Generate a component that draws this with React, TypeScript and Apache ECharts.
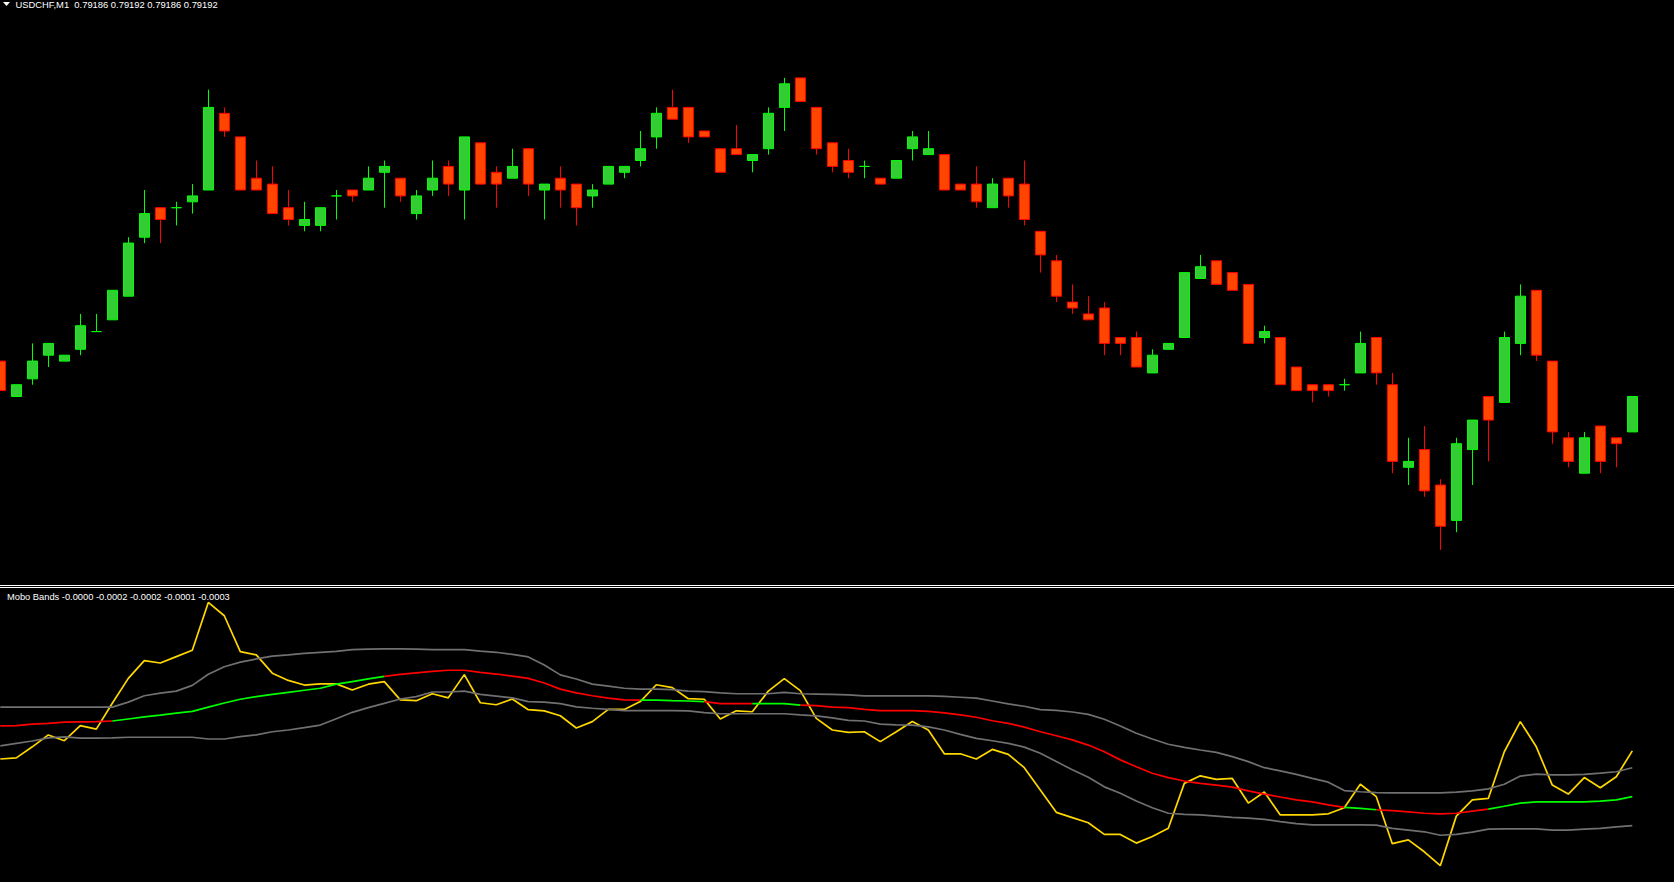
import React, { useEffect, useRef } from "react";
import * as echarts from "echarts";

// ---- data (USDCHF, M1) ----
const bars: string[] = Array.from({ length: 103 }, (_, i) => String(i + 1));

const opens = [0.79198,0.79192,0.79195,0.79199,0.79198,0.79200,0.79203,0.79205,0.79209,0.79219,
 0.79224,0.79224,0.79225,0.79227,0.79240,0.79236,0.79229,0.79228,0.79224,0.79221,
 0.79221,0.79226,0.79227,0.79227,0.79230,0.79229,0.79223,0.79227,0.79231,0.79227,
 0.79235,0.79230,0.79229,0.79234,0.79227,0.79229,0.79228,0.79226,0.79228,0.79230,
 0.79232,0.79236,0.79241,0.79241,0.79237,0.79234,0.79234,0.79232,0.79234,0.79241,
 0.79246,0.79241,0.79235,0.79232,0.79231,0.79229,0.79229,0.79234,0.79233,0.79233,
 0.79228,0.79228,0.79224,0.79229,0.79228,0.79220,0.79215,0.79208,0.79206,0.79207,
 0.79202,0.79202,0.79196,0.79200,0.79202,0.79212,0.79215,0.79213,0.79211,0.79202,
 0.79202,0.79197,0.79194,0.79194,0.79194,0.79196,0.79202,0.79194,0.79180,0.79183,
 0.79177,0.79171,0.79183,0.79192,0.79191,0.79201,0.79210,0.79198,0.79185,0.79179,
 0.79187,0.79185,0.79186];

const highs = [0.79198,0.79194,0.79201,0.79201,0.79199,0.79206,0.79206,0.79210,0.79219,0.79227,
 0.79224,0.79225,0.79228,0.79244,0.79241,0.79236,0.79232,0.79231,0.79227,0.79225,
 0.79224,0.79227,0.79227,0.79231,0.79232,0.79229,0.79227,0.79232,0.79232,0.79236,
 0.79235,0.79231,0.79234,0.79234,0.79228,0.79231,0.79228,0.79228,0.79231,0.79231,
 0.79237,0.79241,0.79244,0.79241,0.79237,0.79234,0.79238,0.79233,0.79241,0.79246,
 0.79246,0.79241,0.79235,0.79234,0.79232,0.79229,0.79232,0.79237,0.79237,0.79233,
 0.79228,0.79231,0.79229,0.79229,0.79232,0.79220,0.79216,0.79211,0.79209,0.79208,
 0.79202,0.79203,0.79200,0.79201,0.79213,0.79216,0.79215,0.79213,0.79211,0.79204,
 0.79202,0.79197,0.79194,0.79194,0.79195,0.79203,0.79202,0.79196,0.79185,0.79187,
 0.79178,0.79185,0.79188,0.79192,0.79203,0.79211,0.79210,0.79198,0.79186,0.79186,
 0.79187,0.79185,0.79192];

const lows = [0.79193,0.79192,0.79194,0.79197,0.79198,0.79199,0.79203,0.79205,0.79209,0.79218,
 0.79218,0.79221,0.79223,0.79227,0.79236,0.79227,0.79227,0.79223,0.79221,0.79220,
 0.79220,0.79222,0.79225,0.79227,0.79224,0.79225,0.79222,0.79226,0.79226,0.79222,
 0.79228,0.79224,0.79229,0.79226,0.79222,0.79224,0.79221,0.79224,0.79228,0.79229,
 0.79231,0.79234,0.79239,0.79235,0.79236,0.79230,0.79233,0.79230,0.79233,0.79237,
 0.79242,0.79233,0.79230,0.79229,0.79229,0.79228,0.79229,0.79232,0.79233,0.79227,
 0.79227,0.79224,0.79224,0.79224,0.79221,0.79213,0.79208,0.79206,0.79205,0.79199,
 0.79199,0.79197,0.79196,0.79200,0.79202,0.79212,0.79211,0.79210,0.79201,0.79201,
 0.79194,0.79193,0.79191,0.79192,0.79193,0.79196,0.79194,0.79179,0.79177,0.79175,
 0.79166,0.79169,0.79177,0.79181,0.79191,0.79199,0.79198,0.79184,0.79180,0.79179,
 0.79179,0.79180,0.79186];

const closes = [0.79193,0.79194,0.79198,0.79201,0.79199,0.79204,0.79203,0.79210,0.79218,0.79223,
 0.79222,0.79224,0.79226,0.79241,0.79237,0.79227,0.79227,0.79223,0.79222,0.79222,
 0.79224,0.79226,0.79226,0.79229,0.79231,0.79226,0.79226,0.79229,0.79228,0.79236,
 0.79228,0.79228,0.79231,0.79228,0.79228,0.79227,0.79224,0.79227,0.79231,0.79231,
 0.79234,0.79240,0.79239,0.79236,0.79236,0.79230,0.79233,0.79233,0.79240,0.79245,
 0.79242,0.79234,0.79231,0.79230,0.79231,0.79228,0.79232,0.79236,0.79234,0.79227,
 0.79227,0.79225,0.79228,0.79226,0.79222,0.79216,0.79209,0.79207,0.79205,0.79201,
 0.79201,0.79197,0.79199,0.79201,0.79213,0.79214,0.79211,0.79210,0.79201,0.79203,
 0.79194,0.79193,0.79193,0.79193,0.79194,0.79201,0.79196,0.79181,0.79181,0.79176,
 0.79170,0.79184,0.79188,0.79188,0.79202,0.79209,0.79199,0.79186,0.79181,0.79185,
 0.79181,0.79184,0.79192];

// Mobo Bands buffers
const moboMain = [-6.5e-5,-6.1e-5,-2.3e-5,1.8e-5,-0.2e-5,5.0e-5,3.8e-5,12.7e-5,21.3e-5,27.4e-5,
 26.6e-5,28.8e-5,31.0e-5,47.5e-5,42.9e-5,30.5e-5,29.4e-5,23.1e-5,20.6e-5,19.0e-5,
 19.4e-5,19.4e-5,17.3e-5,19.3e-5,20.2e-5,13.9e-5,13.6e-5,16.0e-5,14.6e-5,22.6e-5,
 12.9e-5,12.2e-5,14.2e-5,10.5e-5,10.1e-5,8.4e-5,4.2e-5,6.4e-5,10.6e-5,10.6e-5,
 13.3e-5,19.1e-5,18.1e-5,14.3e-5,14.1e-5,7.3e-5,10.1e-5,9.8e-5,16.9e-5,21.2e-5,
 17.1e-5,7.5e-5,3.5e-5,2.7e-5,2.9e-5,-0.5e-5,2.9e-5,6.4e-5,3.5e-5,-4.7e-5,
 -4.7e-5,-6.5e-5,-3.2e-5,-4.9e-5,-9.5e-5,-17.2e-5,-24.9e-5,-26.7e-5,-28.5e-5,-32.5e-5,
 -32.5e-5,-35.5e-5,-33.2e-5,-30.4e-5,-14.9e-5,-12.3e-5,-13.5e-5,-13.2e-5,-21.7e-5,-17.9e-5,
 -25.8e-5,-25.8e-5,-25.8e-5,-25.4e-5,-23.3e-5,-15.2e-5,-19.5e-5,-35.7e-5,-34.4e-5,-38.5e-5,
 -43.3e-5,-26.2e-5,-20.6e-5,-20.1e-5,-4.0e-5,6.4e-5,-2.3e-5,-15.5e-5,-18.6e-5,-12.9e-5,
 -16.4e-5,-12.6e-5,-3.7e-5];

const moboUpper = [11.4e-5,11.4e-5,11.4e-5,11.4e-5,11.4e-5,11.4e-5,11.4e-5,11.4e-5,13.1e-5,15.3e-5,
 16.2e-5,16.9e-5,18.9e-5,22.7e-5,25.3e-5,26.9e-5,28.0e-5,29.0e-5,29.4e-5,29.9e-5,
 30.3e-5,30.6e-5,31.2e-5,31.4e-5,31.5e-5,31.5e-5,31.4e-5,31.2e-5,31.2e-5,31.2e-5,
 30.7e-5,30.3e-5,29.6e-5,28.7e-5,25.9e-5,22.5e-5,21.1e-5,19.3e-5,18.6e-5,17.9e-5,
 17.6e-5,17.6e-5,17.4e-5,16.9e-5,16.7e-5,16.3e-5,16.0e-5,16.0e-5,16.0e-5,16.5e-5,
 16.0e-5,15.9e-5,15.8e-5,15.6e-5,15.3e-5,15.3e-5,15.3e-5,15.3e-5,15.3e-5,15.1e-5,
 14.8e-5,14.5e-5,13.5e-5,12.5e-5,11.7e-5,10.5e-5,10.3e-5,9.7e-5,8.9e-5,7.2e-5,
 4.9e-5,2.4e-5,0.4e-5,-1.4e-5,-2.5e-5,-3.4e-5,-4.2e-5,-5.7e-5,-7.4e-5,-9.5e-5,
 -10.6e-5,-11.8e-5,-13.2e-5,-14.5e-5,-17.4e-5,-17.8e-5,-18.1e-5,-18.2e-5,-18.2e-5,-18.2e-5,
 -18.2e-5,-17.9e-5,-17.5e-5,-16.8e-5,-15.2e-5,-12.4e-5,-11.7e-5,-12.0e-5,-12.0e-5,-11.8e-5,
 -11.4e-5,-10.9e-5,-9.5e-5];

const moboMiddle = [4.9e-5,5.0e-5,5.5e-5,5.8e-5,6.2e-5,6.3e-5,6.4e-5,6.6e-5,7.3e-5,8.0e-5,
 8.6e-5,9.3e-5,9.9e-5,11.4e-5,12.8e-5,14.1e-5,15.0e-5,15.8e-5,16.5e-5,17.2e-5,
 17.9e-5,19.3e-5,20.2e-5,21.1e-5,22.0e-5,22.7e-5,23.2e-5,23.7e-5,24.1e-5,24.1e-5,
 23.4e-5,22.8e-5,22.1e-5,21.3e-5,19.7e-5,17.6e-5,16.3e-5,15.3e-5,14.5e-5,13.9e-5,
 13.8e-5,13.8e-5,13.6e-5,13.5e-5,13.3e-5,12.6e-5,12.6e-5,12.6e-5,12.6e-5,12.6e-5,
 12.1e-5,11.9e-5,11.4e-5,11.2e-5,10.6e-5,10.2e-5,10.2e-5,10.2e-5,9.9e-5,9.4e-5,
 8.7e-5,7.9e-5,6.7e-5,5.8e-5,4.5e-5,2.9e-5,1.5e-5,0.1e-5,-1.7e-5,-4.0e-5,
 -6.8e-5,-9.2e-5,-11.4e-5,-12.9e-5,-14.1e-5,-14.9e-5,-15.5e-5,-16.2e-5,-17.5e-5,-18.6e-5,
 -19.6e-5,-20.6e-5,-21.3e-5,-22.3e-5,-23.2e-5,-23.5e-5,-24.0e-5,-24.3e-5,-24.7e-5,-25.2e-5,
 -25.4e-5,-25.2e-5,-24.5e-5,-23.8e-5,-22.8e-5,-21.7e-5,-21.3e-5,-21.3e-5,-21.3e-5,-21.3e-5,
 -21.0e-5,-20.6e-5,-19.5e-5];

const moboLower = [-2.0e-5,-1.1e-5,-0.3e-5,0.8e-5,1.1e-5,0.7e-5,0.7e-5,0.8e-5,1.0e-5,1.0e-5,
 1.0e-5,1.0e-5,1.0e-5,0.4e-5,0.4e-5,1.2e-5,1.8e-5,2.9e-5,3.5e-5,4.3e-5,
 5.2e-5,7.4e-5,9.6e-5,11.2e-5,12.7e-5,14.2e-5,15.0e-5,16.6e-5,16.6e-5,16.9e-5,
 15.8e-5,15.2e-5,14.6e-5,13.3e-5,13.1e-5,12.6e-5,11.5e-5,11.0e-5,10.6e-5,10.2e-5,
 10.2e-5,10.2e-5,10.2e-5,10.1e-5,9.5e-5,9.1e-5,9.1e-5,9.1e-5,9.1e-5,9.1e-5,
 8.7e-5,8.4e-5,7.7e-5,6.8e-5,6.6e-5,5.5e-5,5.3e-5,5.2e-5,4.6e-5,3.5e-5,
 2.0e-5,0.6e-5,-0.2e-5,-1.1e-5,-2.4e-5,-4.5e-5,-7.4e-5,-10.2e-5,-12.8e-5,-16.1e-5,
 -18.3e-5,-21.0e-5,-23.3e-5,-25.2e-5,-25.6e-5,-25.8e-5,-26.2e-5,-26.6e-5,-26.9e-5,-27.3e-5,
 -28.1e-5,-28.8e-5,-29.2e-5,-29.2e-5,-29.2e-5,-29.2e-5,-29.3e-5,-30.4e-5,-31.0e-5,-31.6e-5,
 -32.8e-5,-32.5e-5,-31.7e-5,-30.7e-5,-30.6e-5,-30.6e-5,-30.6e-5,-31.0e-5,-31.0e-5,-30.7e-5,
 -30.4e-5,-29.9e-5,-29.5e-5];

// bar index ranges where the middle line is drawn green (rising)
const middleUpRanges: [number, number][] = [[7, 24], [40, 44], [47, 50], [84, 86], [93, 102]];

const titleText = "USDCHF,M1  0.79186 0.79192 0.79186 0.79192";
const indicatorText = "Mobo Bands -0.0000 -0.0002 -0.0002 -0.0001 -0.0003";

export default function App() {
  const ref = useRef<HTMLDivElement>(null);

  useEffect(() => {
    document.body.style.margin = "0";
    document.body.style.background = "#000";
    if (!ref.current) return;
    const chart = echarts.init(ref.current, undefined, { renderer: "svg" });

    const candles = opens.map((o, i) => {
      const v = [o, closes[i], lows[i], highs[i]];
      if (o === closes[i]) {
        return {
          value: v,
          itemStyle: { borderColor: "#00FF00", borderColor0: "#00FF00", color: "#32CD32", color0: "#32CD32" },
        };
      }
      return v;
    });

    const inUp = (i: number) => middleUpRanges.some(([a, b]) => i >= a && i <= b);
    const strictlyUp = (i: number) => middleUpRanges.some(([a, b]) => i > a && i < b);
    const midUp = moboMiddle.map((v, i) => (inUp(i) ? v : null));
    const midDown = moboMiddle.map((v, i) => (strictlyUp(i) ? null : v));

    const lineBase = {
      type: "line",
      xAxisIndex: 1,
      yAxisIndex: 1,
      symbol: "none",
      showSymbol: false,
      connectNulls: false,
      silent: true,
      clip: false,
    };

    chart.setOption({
      animation: false,
      backgroundColor: "#000000",
      grid: [
        { left: -7.7, top: 1.2, width: 1648, height: 584.1, outerBoundsMode: "none", containLabel: false },
        { left: -7.7, top: 595.15, width: 1648, height: 290, outerBoundsMode: "none", containLabel: false },
      ],
      xAxis: [
        { type: "category", data: bars, gridIndex: 0, show: false, boundaryGap: true },
        { type: "category", data: bars, gridIndex: 1, show: false, boundaryGap: true },
      ],
      yAxis: [
        { type: "value", gridIndex: 0, min: 0.7916, max: 0.79259, show: false, splitLine: { show: false } },
        { type: "value", gridIndex: 1, min: -0.0005, max: 0.0005, show: false, splitLine: { show: false } },
      ],
      series: [
        {
          type: "candlestick",
          xAxisIndex: 0,
          yAxisIndex: 0,
          data: candles,
          barWidth: 10,
          silent: true,
          clip: false,
          itemStyle: {
            color: "#32CD32",
            color0: "#FF4500",
            borderColor: "#00FF00",
            borderColor0: "#FF0000",
            borderColorDoji: "#00FF00",
            borderWidth: 1,
          },
        },
        { ...lineBase, name: "main", data: moboMain, lineStyle: { color: "#FFD700", width: 1.7 } },
        { ...lineBase, name: "mid-down", data: midDown, lineStyle: { color: "#FF0000", width: 1.7 } },
        { ...lineBase, name: "mid-up", data: midUp, lineStyle: { color: "#00FF00", width: 1.7 } },
        { ...lineBase, name: "upper", data: moboUpper, lineStyle: { color: "#707070", width: 1.7 } },
        { ...lineBase, name: "lower", data: moboLower, lineStyle: { color: "#707070", width: 1.7 } },
      ],
      graphic: [
        { type: "rect", silent: true, shape: { x: 0, y: 585, width: 1674, height: 1 }, style: { fill: "#FFFFFF" } },
        { type: "rect", silent: true, shape: { x: 0, y: 587, width: 1674, height: 1 }, style: { fill: "#FFFFFF" } },
        {
          type: "polygon",
          silent: true,
          shape: { points: [[3, 2], [10, 2], [6.5, 6]] },
          style: { fill: "#FFFFFF" },
        },
        {
          type: "text",
          silent: true,
          x: 15.5,
          y: 4,
          style: {
            text: titleText,
            fill: "#FFFFFF",
            fontSize: 9.4,
            fontFamily: "Liberation Sans, Arial, sans-serif",
            align: "left",
            verticalAlign: "middle",
          },
        },
        {
          type: "text",
          silent: true,
          x: 7,
          y: 596.5,
          style: {
            text: indicatorText,
            fill: "#FFFFFF",
            fontSize: 9.3,
            fontFamily: "Liberation Sans, Arial, sans-serif",
            align: "left",
            verticalAlign: "middle",
          },
        },
      ],
    });

    return () => chart.dispose();
  }, []);

  return (
    <div
      ref={ref}
      style={{ position: "absolute", left: 0, top: 0, width: 1674, height: 882, background: "#000" }}
    />
  );
}
